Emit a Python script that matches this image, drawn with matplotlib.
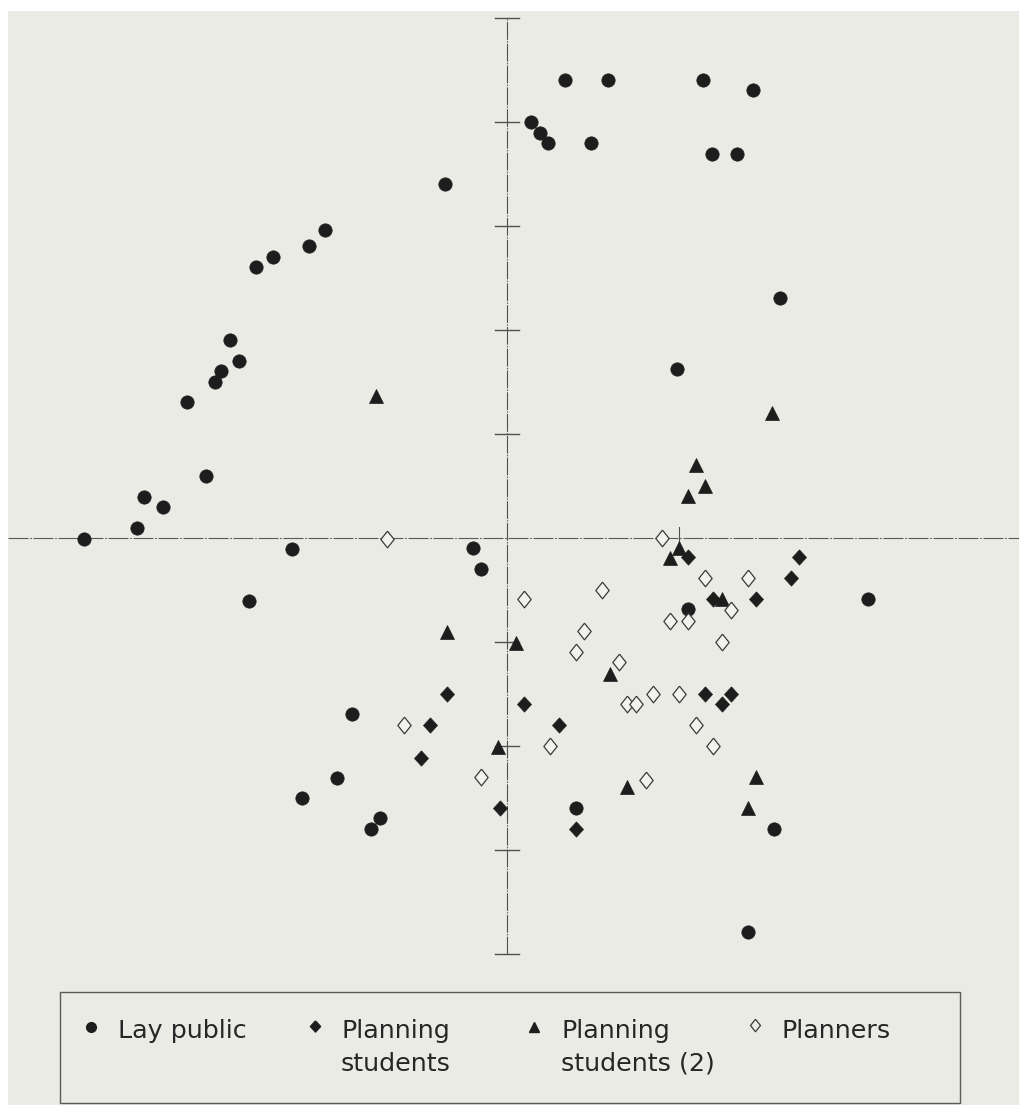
import matplotlib
matplotlib.use("Agg")
import matplotlib.pyplot as plt
from matplotlib.lines import Line2D
from matplotlib.patches import Rectangle

# Scores on the two dimensions for each group of respondents
lay_x = [0.34, 0.59, 1.14, 1.43, 0.14, 0.19, 0.24, 0.49, 1.19, 1.34,
         -0.36, -1.06, -1.15, -1.36, -1.46, 1.59, -1.61, -1.56, -1.66, -1.70,
         -1.86, 0.99, -1.75, -2.11, -2.00, -2.15, -2.46, -1.25, -0.20, -0.15,
         -1.50, 2.10, 1.05, -0.90, -0.99, -1.19, -0.74, -0.79, 0.40, 1.55,
         1.40]
lay_y = [4.40, 4.40, 4.40, 4.30, 4.00, 3.89, 3.79, 3.79, 3.69, 3.69,
         3.40, 2.96, 2.80, 2.70, 2.60, 2.30, 1.90, 1.70, 1.60, 1.50,
         1.30, 1.62, 0.59, 0.39, 0.29, 0.09, -0.01, -0.11, -0.10, -0.30,
         -0.61, -0.59, -0.69, -1.70, -2.31, -2.50, -2.70, -2.80, -2.60, -2.80,
         -3.79]

stud_x = [1.05, 1.70, 1.65, 1.20, 1.45, 1.15, 1.30, 1.25, -0.35, 0.10,
          -0.45, 0.30, -0.50, -0.04, 0.40]
stud_y = [-0.19, -0.19, -0.39, -0.59, -0.59, -1.50, -1.50, -1.60, -1.50, -1.60,
          -1.80, -1.80, -2.12, -2.60, -2.80]

stud2_x = [-0.76, 1.54, 1.10, 1.15, 1.05, 1.00, 0.95, 1.25, -0.35, 0.05,
           0.60, -0.05, 1.45, 0.70, 1.40]
stud2_y = [1.36, 1.20, 0.70, 0.50, 0.40, -0.10, -0.20, -0.59, -0.91, -1.01,
           -1.31, -2.01, -2.30, -2.40, -2.60]

plan_x = [-0.70, 0.90, 1.15, 1.40, 0.55, 0.10, 1.30, 0.95, 1.05, 0.45,
          1.25, 0.40, 0.65, 0.85, 1.00, 0.70, 0.75, 1.10, 1.20, 0.81,
          -0.60, 0.25, -0.15]
plan_y = [-0.01, 0.00, -0.39, -0.39, -0.50, -0.59, -0.70, -0.80, -0.80, -0.90,
          -1.00, -1.10, -1.20, -1.50, -1.50, -1.60, -1.60, -1.80, -2.00, -2.33,
          -1.80, -2.00, -2.30]

labels = ["Lay public", "Planning\nstudents", "Planning\nstudents (2)", "Planners"]

W, H = 1019, 1105
fig = plt.figure(figsize=(W / 100, H / 100), dpi=100, facecolor="white")

# paper-toned page area
fig.patches.append(Rectangle((8 / W, 0), 1 - 8 / W, (H - 11) / H,
                             transform=fig.transFigure, facecolor="#ebebe5",
                             edgecolor="none", zorder=-5))

ax = fig.add_axes([0, 0, 1, 1])
ax.set_zorder(2)
ax.set_facecolor("none")
ax.patch.set_alpha(0)
ax.set_xlim(-507 / 172, 512 / 172)
ax.set_ylim((537.5 - H) / 104, 537.5 / 104)
ax.axis("off")

ink = "#1d1d1d"
axis_col = "#505050"

# crossing axes
ax.plot([0, 0], [-4, 5], color=axis_col, lw=0.8, ls=(0, (16, 1.2, 1.2, 1.2)), zorder=1)
ax.plot([(8 - 507) / 172, 512 / 172], [0, 0], color="#5a5a5a", lw=0.8,
        ls=(0, (18, 1.5, 1.5, 1.5)), zorder=1)
for yt in [-4, -3, -2, -1, 1, 2, 3, 4, 5]:
    ax.plot([-0.07, 0.07], [yt, yt], color=axis_col, lw=1.0, zorder=1)
ax.plot([1, 1], [-0.08, 0.1], color=axis_col, lw=0.8, zorder=1)

diamond_filled = [(0, 1), (0.92, 0), (0, -1), (-0.92, 0), (0, 1)]
diamond_open = [(0, 1), (0.8, 0), (0, -1), (-0.8, 0), (0, 1)]

ax.plot(lay_x, lay_y, ls="none", marker="o", ms=9.6, mfc=ink, mec=ink, mew=0.5, zorder=3)
ax.plot(stud_x, stud_y, ls="none", marker=diamond_filled, ms=11.0, mfc=ink, mec=ink,
        mew=0.5, zorder=3)
ax.plot(stud2_x, stud2_y, ls="none", marker="^", ms=9.5, mfc=ink, mec=ink, mew=0.5, zorder=3)
ax.plot(plan_x, plan_y, ls="none", marker=diamond_open, ms=12.0, mfc="#f2f2ee",
        mec="#3a3a3a", mew=0.9, zorder=3)


# legend box, placed in figure pixels
def fx(px):
    return px / W


def fy(py):
    return 1 - py / H


fig.patches.append(Rectangle((fx(60), fy(1103)), fx(960) - fx(60), fy(992) - fy(1103),
                             transform=fig.transFigure, facecolor="none",
                             edgecolor="#5a5a5a", lw=1.0, zorder=2))

legend_markers = [
    dict(marker="o", ms=7.0, mfc=ink, mec=ink),
    dict(marker=diamond_filled, ms=8.0, mfc=ink, mec=ink),
    dict(marker="^", ms=7.0, mfc=ink, mec=ink),
    dict(marker=diamond_open, ms=9.0, mfc="none", mec="#3a3a3a", mew=0.9),
]
marker_pos = [(91, 1027), (315, 1026), (534, 1027), (755, 1025)]
text_x = [118, 341, 561, 782]

for lab, mk, (mx, my), tx in zip(labels, legend_markers, marker_pos, text_x):
    fig.add_artist(Line2D([fx(mx)], [fy(my)], ls="none", transform=fig.transFigure, **mk))
    for i, line in enumerate(lab.split("\n")):
        fig.text(fx(tx), fy(1038 + 33 * i), line, transform=fig.transFigure,
                 fontsize=18.3, family="DejaVu Sans", color="#262626",
                 ha="left", va="baseline")

fig.savefig("out.png", dpi=100, facecolor=fig.get_facecolor())
